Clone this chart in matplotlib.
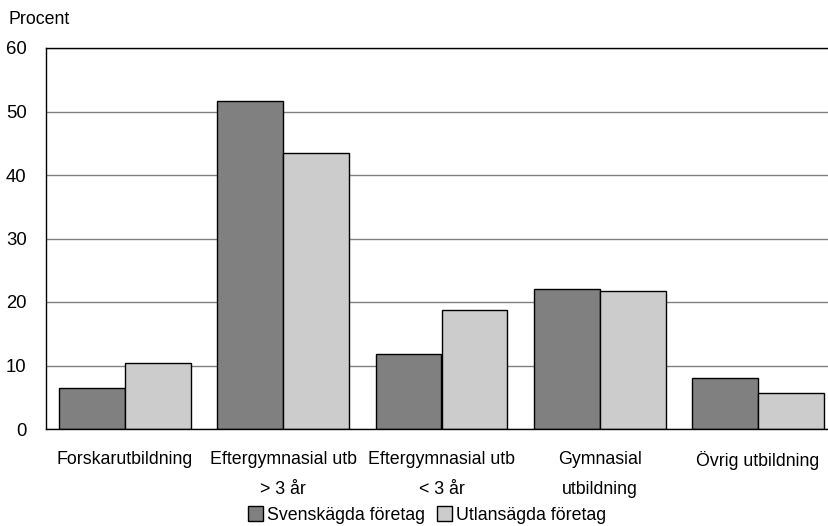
import numpy as np
import matplotlib.pyplot as plt
from matplotlib.patches import Patch

plt.rcParams["font.family"] = ["Liberation Sans", "DejaVu Sans"]

# data
categories = ["Forskarutbildning", "Eftergymnasial utb\n> 3 år", "Eftergymnasial utb\n< 3 år",
              "Gymnasial\nutbildning", "Övrig utbildning"]
svenskagda = [6.4, 51.7, 11.8, 22.1, 8.0]
utlansagda = [10.4, 43.5, 18.8, 21.7, 5.7]
series_names = ["Svenskägda företag", "Utlansägda företag"]
yticks = [0, 10, 20, 30, 40, 50, 60]

c_dark = "#808080"
c_light = "#cccccc"
fs = 12.8

fig = plt.figure(figsize=(8.29, 5.26), dpi=100)
ax = fig.add_axes([46 / 829, 1 - 429 / 526, (837 - 46) / 829, (429 - 48) / 526])

x = np.arange(len(categories))
w = 0.417
ax.bar(x - w / 2, svenskagda, w, color=c_dark, edgecolor="black", linewidth=1, zorder=3)
ax.bar(x + w / 2, utlansagda, w, color=c_light, edgecolor="black", linewidth=1, zorder=3)

ax.set_xlim(-0.5, len(categories) - 0.5)
ax.set_ylim(0, 60)
ax.set_yticks(yticks)
ax.set_yticklabels([str(t) for t in yticks], fontsize=fs + 0.5)
ax.set_xticks(x)
ax.set_xticklabels(categories, fontsize=fs, linespacing=1.95)
ax.tick_params(axis="x", length=0, pad=16)
ax.tick_params(axis="y", length=0, pad=14)

ax.yaxis.grid(True, color="#808080", linewidth=1, zorder=0)
ax.set_axisbelow(True)
for s in ["top", "left", "bottom"]:
    ax.spines[s].set_color("black")
    ax.spines[s].set_linewidth(1)
ax.spines["right"].set_visible(False)
ax.spines["bottom"].set_zorder(4)

fig.text(9 / 829, 1 - 20 / 526, "Procent", fontsize=fs, ha="left", va="center")

handles = [Patch(facecolor=c_dark, edgecolor="black", linewidth=1),
           Patch(facecolor=c_light, edgecolor="black", linewidth=1)]
fig.legend(handles, series_names, loc="center", bbox_to_anchor=(427 / 829, 1 - 515 / 526),
           ncol=2, frameon=False, fontsize=fs, handlelength=0.85, handleheight=0.85,
           handletextpad=0.22, columnspacing=0.7, borderpad=0)

fig.savefig("out.png", dpi=100)
